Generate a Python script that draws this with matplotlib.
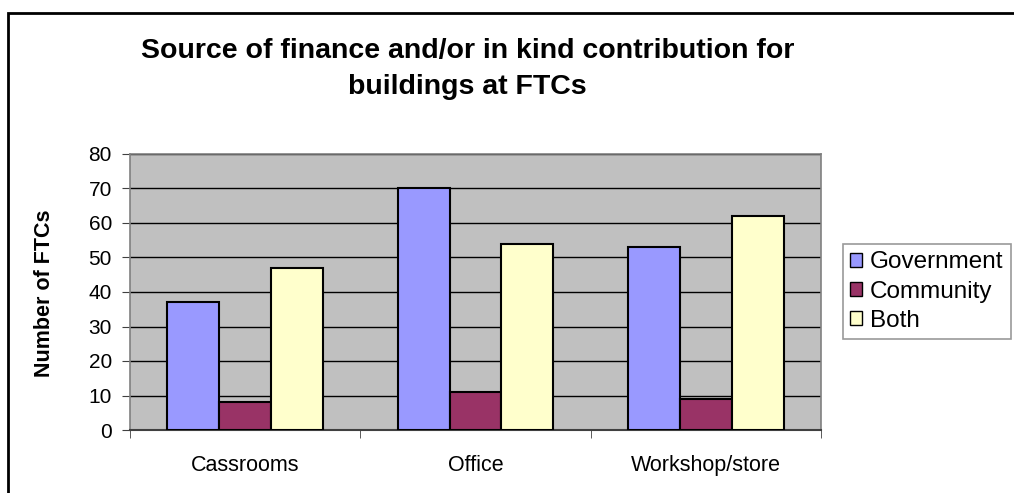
import matplotlib.pyplot as plt
import matplotlib.patches as mpatches
import numpy as np

plt.rcParams['font.family'] = ['Liberation Sans', 'DejaVu Sans']

# data
categories = ['Cassrooms', 'Office', 'Workshop/store']
series_names = ['Government', 'Community', 'Both']
government = [37, 70, 53]
community = [8, 11, 9]
both = [47, 54, 62]
colors = ['#9999FF', '#993366', '#FFFFCC']

fig = plt.figure(figsize=(10.14, 4.93), dpi=100)
ax = fig.add_axes([130 / 1014, 1 - 430 / 493, 691 / 1014, 276 / 493])
ax.set_facecolor('#C0C0C0')

x = np.arange(len(categories))
w = 0.225
for i, (vals, name) in enumerate(zip([government, community, both], series_names)):
    ax.bar(x + (i - 1) * w, vals, w, color=colors[i], edgecolor='black',
           linewidth=1.5, label=name, zorder=3)

ax.set_xlim(-0.5, 2.5)
ax.set_ylim(0, 80)
ax.set_yticks(range(0, 81, 10))
ax.yaxis.grid(True, color='black', linewidth=1, zorder=1)
ax.set_axisbelow(True)

ax.set_xticks(x)
ax.set_xticklabels(categories, fontsize=15.5)
ax.set_xticks([-0.5, 0.5, 1.5, 2.5], minor=True)
ax.tick_params(axis='x', which='major', length=0, pad=18)
ax.tick_params(axis='x', which='minor', length=6, direction='out', color='#404040')
ax.tick_params(axis='y', length=6, direction='out', labelsize=15, pad=7, color='#404040')

for s in ['top', 'right', 'left']:
    ax.spines[s].set_color('#808080')
    ax.spines[s].set_linewidth(1.2)
ax.spines['bottom'].set_color('#404040')
ax.spines['bottom'].set_linewidth(1.5)

fig.text(45 / 1014, 1 - 293 / 493, 'Number of FTCs', rotation=90,
         ha='center', va='center', fontsize=15.5, fontweight='bold')

fig.text(0.461, 1 - 69 / 493,
         'Source of finance and/or in kind contribution for\nbuildings at FTCs',
         ha='center', va='center', fontsize=20.5, fontweight='bold', linespacing=1.5)

leg = fig.legend(loc='upper left', bbox_to_anchor=(843 / 1014, 1 - 244 / 493),
                 fontsize=17.5, frameon=True, fancybox=False, handlelength=0.5,
                 handleheight=0.5, handletextpad=0.3, labelspacing=0.3,
                 borderpad=0.3, borderaxespad=0)
leg.get_frame().set_edgecolor('#808080')
leg.get_frame().set_linewidth(1.2)
for h in leg.legend_handles:
    h.set_linewidth(1)

# outer chart border
border = mpatches.Rectangle((8 / 1014, -0.1), 1.2, (1 - 13 / 493) + 0.1,
                            transform=fig.transFigure, fill=False,
                            edgecolor='black', linewidth=2)
fig.patches.append(border)

fig.savefig('out.png', dpi=100)
